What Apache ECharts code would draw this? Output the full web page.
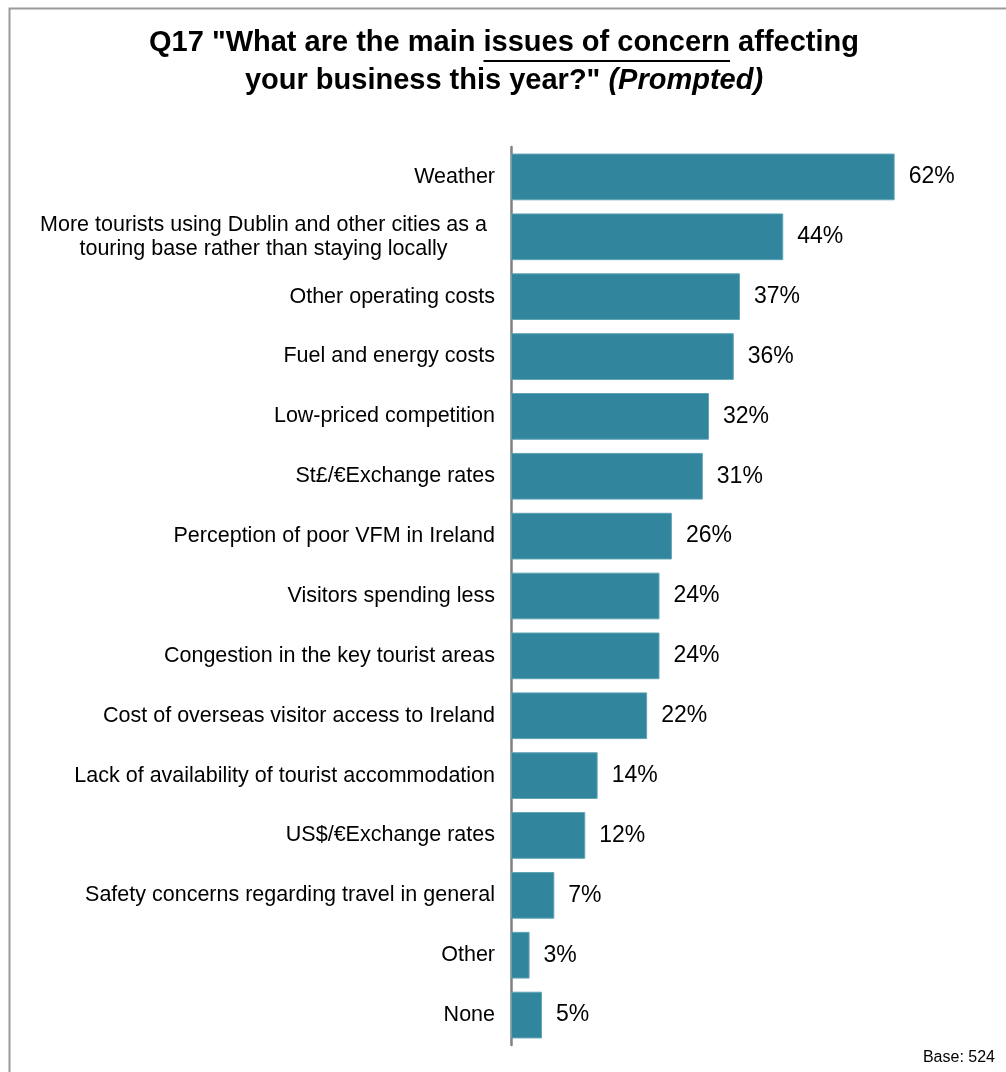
<!DOCTYPE html>
<html>
<head>
<meta charset="utf-8">
<script src="https://cdn.jsdelivr.net/npm/echarts@6/dist/echarts.min.js"></script>
<style>
  html, body { margin: 0; padding: 0; background: #fff; }
  #chart { width: 1006px; height: 1072px; }
</style>
</head>
<body>
<div id="chart"></div>
<script>
// Issues of concern, share of respondents (%)
const categories = [
  'Weather',
  'More tourists using Dublin and other cities as a\ntouring base rather than staying locally',
  'Other operating costs',
  'Fuel and energy costs',
  'Low-priced competition',
  'St£/€Exchange rates',
  'Perception of poor VFM in Ireland',
  'Visitors spending less',
  'Congestion in the key tourist areas',
  'Cost of overseas visitor access to Ireland',
  'Lack of availability of tourist accommodation',
  'US$/€Exchange rates',
  'Safety concerns regarding travel in general',
  'Other',
  'None'
];
const values = [62, 44, 37, 36, 32, 31, 26, 24, 24, 22, 14, 12, 7, 3, 5];
const baseNote = 'Base: 524';

const titlePre = 'Q17 "What are the main ';
const titleUnder = 'issues of concern';
const titlePost = ' affecting';
const titleLine2a = 'your business this year?" ';
const titleLine2b = '(Prompted)';

const FONT = 'Arial, "Liberation Sans", sans-serif';
const TITLE_SIZE = 29;

// measure the first title line so the underline sits under the right words
const ctx = document.createElement('canvas').getContext('2d');
ctx.font = 'bold ' + TITLE_SIZE + 'px ' + FONT;
const wPre = ctx.measureText(titlePre).width;
const wUnder = ctx.measureText(titleUnder).width;
const wLine1 = ctx.measureText(titlePre + titleUnder + titlePost).width;
const titleCx = 504;
const line1Left = titleCx - wLine1 / 2;

const chart = echarts.init(document.getElementById('chart'));
chart.setOption({
  animation: false,
  backgroundColor: '#fff',
  title: {
    left: titleCx,
    top: 24,
    padding: 0,
    textAlign: 'center',
    text: '{b|' + titlePre + titleUnder + titlePost + '}\n{b|' + titleLine2a + '}{i|' + titleLine2b + '}',
    textStyle: {
      rich: {
        b: { fontFamily: FONT, fontWeight: 'bold', fontSize: TITLE_SIZE, color: '#000', lineHeight: 38 },
        i: { fontFamily: FONT, fontWeight: 'bold', fontStyle: 'italic', fontSize: TITLE_SIZE, color: '#000', lineHeight: 38 }
      }
    }
  },
  graphic: [
    {
      type: 'rect',
      silent: true,
      shape: { x: 9.5, y: 8.5, width: 1020, height: 1100 },
      style: { fill: 'none', stroke: '#9a9a9a', lineWidth: 2 }
    },
    {
      type: 'line',
      silent: true,
      shape: { x1: line1Left + wPre, y1: 61, x2: line1Left + wPre + wUnder, y2: 61 },
      style: { stroke: '#000', lineWidth: 2 }
    },
    {
      type: 'text',
      right: 11,
      top: 1050,
      style: { text: baseNote, fontFamily: FONT, fontSize: 16, fill: '#000' }
    }
  ],
  grid: { left: 511, top: 147, width: 498, height: 898 },
  xAxis: {
    type: 'value',
    min: 0,
    max: 80,
    show: false
  },
  yAxis: {
    type: 'category',
    inverse: true,
    data: categories,
    axisLine: { show: true, lineStyle: { color: '#808080', width: 2.5 } },
    axisTick: { show: false },
    axisLabel: {
      margin: 16,
      align: 'right',
      formatter: function (v) {
        const lines = v.split('\n');
        const key = lines.length > 1 ? 'm' : 'c';
        return lines.map(function (l) { return '{' + key + '|' + l + '}'; }).join('\n');
      },
      rich: {
        c: { align: 'center', fontFamily: FONT, fontSize: 21.5, color: '#000', lineHeight: 24 },
        m: { align: 'center', fontFamily: FONT, fontSize: 21.5, color: '#000', lineHeight: 24, padding: [0, 8, 0, 0] }
      }
    }
  },
  series: [{
    type: 'bar',
    data: values,
    barCategoryGap: '22%',
    itemStyle: { color: '#31859c', borderColor: '#5fa3b5', borderWidth: 1 },
    label: {
      show: true,
      position: 'right',
      distance: 14,
      formatter: '{c}%',
      fontFamily: FONT,
      fontSize: 23,
      color: '#000'
    }
  }]
});
</script>
</body>
</html>
